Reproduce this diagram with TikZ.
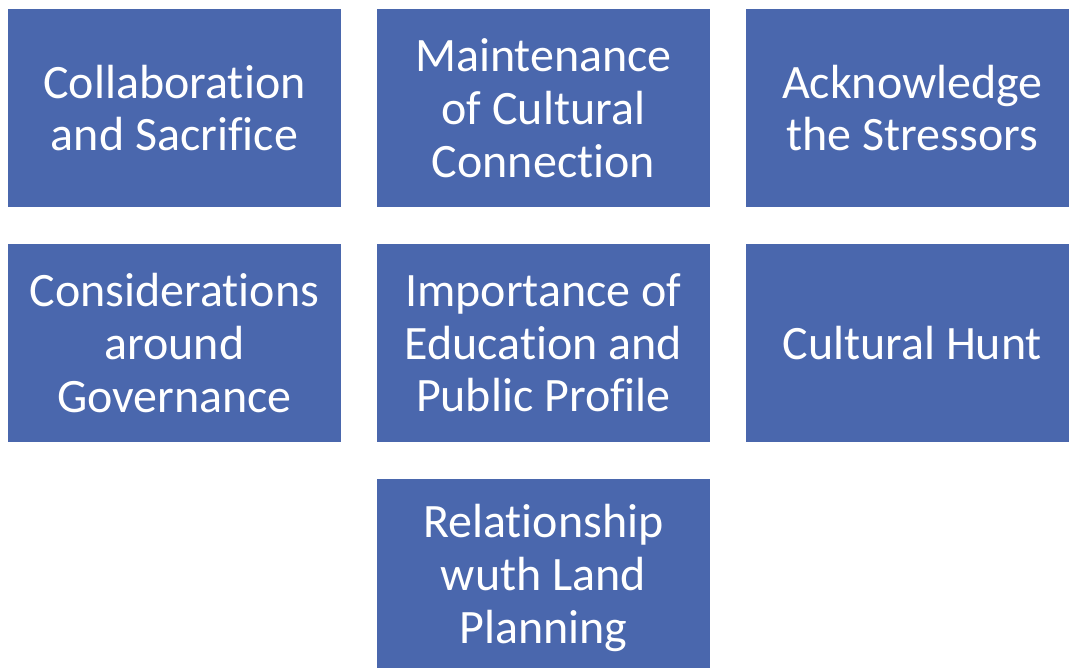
\documentclass[tikz,border=0pt]{standalone}
\usepackage{fontspec}
\setmainfont{Carlito}[Ligatures=NoCommon]
\usetikzlibrary{positioning}
\definecolor{tilebl}{RGB}{74,103,173}

\begin{document}
\begin{tikzpicture}[x=0.02cm,y=-0.02cm,
      node distance=0.74cm and 0.72cm,
      tile/.style={fill=tilebl,text=white,minimum width=6.66cm,minimum height=3.96cm,
        inner sep=0pt,outer sep=0pt,align=center,font=\fontsize{27.3}{30}\selectfont}]
      \useasboundingbox (0,0) rectangle (1069,668);
      \clip (0,0) rectangle (1069,668);
      \node[tile] (t1) at (174.5,108) {Collaboration\\and Sacrifice};
      \node[tile] (t2) [right=of t1] {Maintenance\\of Cultural\\Connection};
      \node[tile] (t3) [right=of t2] {Acknowledge\\the Stressors};
      \node[tile] (t4) [below=of t1] {Considerations\\around\\Governance};
      \node[tile] (t5) [below=of t2] {Importance of\\Education and\\Public Profile};
      \node[tile] (t6) [below=of t3] {Cultural Hunt};
      \node[tile] (t7) [below=of t5] {Relationship\\wuth Land\\Planning};
    \end{tikzpicture}
\end{document}
